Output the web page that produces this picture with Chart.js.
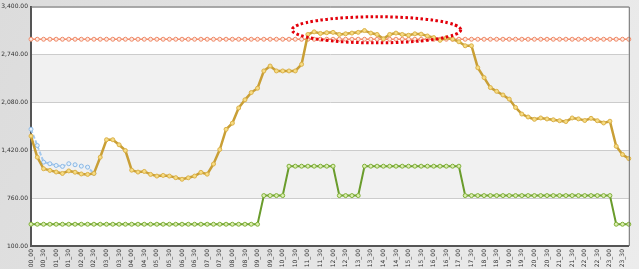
<!DOCTYPE html>
<html>
<head>
<meta charset="utf-8">
<script src="https://cdn.jsdelivr.net/npm/chart.js@4/dist/chart.umd.min.js"></script>
<style>
  html, body { margin: 0; padding: 0; background: #e8e8e8; }
  #wrap { width: 639px; height: 269px; }
</style>
</head>
<body>
<div id="wrap"><canvas id="loadChart" width="639" height="269"></canvas></div>
<script>
const times = [
  '00_00','00_15','00_30','00_45','01_00','01_15','01_30','01_45',
  '02_00','02_15','02_30','02_45','03_00','03_15','03_30','03_45',
  '04_00','04_15','04_30','04_45','05_00','05_15','05_30','05_45',
  '06_00','06_15','06_30','06_45','07_00','07_15','07_30','07_45',
  '08_00','08_15','08_30','08_45','09_00','09_15','09_30','09_45',
  '10_00','10_15','10_30','10_45','11_00','11_15','11_30','11_45',
  '12_00','12_15','12_30','12_45','13_00','13_15','13_30','13_45',
  '14_00','14_15','14_30','14_45','15_00','15_15','15_30','15_45',
  '16_00','16_15','16_30','16_45','17_00','17_15','17_30','17_45',
  '18_00','18_15','18_30','18_45','19_00','19_15','19_30','19_45',
  '20_00','20_15','20_30','20_45','21_00','21_15','21_30','21_45',
  '22_00','22_15','22_30','22_45','23_00','23_15','23_30','23_45'
];

const loadValues = [
  1615, 1324, 1165, 1142, 1120, 1100, 1135, 1117,
  1093, 1087, 1100, 1324, 1565, 1565, 1495, 1416,
  1145, 1119, 1128, 1087, 1064, 1073, 1064, 1042,
  1020, 1040, 1064, 1115, 1090, 1230, 1430, 1708,
  1793, 2003, 2115, 2215, 2275, 2513, 2581, 2513,
  2513, 2513, 2513, 2604, 3016, 3052, 3030, 3040,
  3045, 3016, 3025, 3035, 3045, 3070, 3035, 3016,
  2955, 3016, 3035, 3016, 3005, 3025, 3020, 2995,
  2973, 2935, 2970, 2952, 2915, 2860, 2860, 2558,
  2421, 2284, 2232, 2182, 2125, 2010, 1919, 1878,
  1846, 1865, 1851, 1840, 1827, 1815, 1865, 1852,
  1830, 1860, 1827, 1796, 1820, 1475, 1361, 1305
];

const forecastValues = [
  1710, 1485, 1256, 1234, 1210, 1197, 1234, 1220,
  1201, 1187, 1100
];

const limitValues = [
  2950, 2950, 2950, 2950, 2950, 2950, 2950, 2950,
  2950, 2950, 2950, 2950, 2950, 2950, 2950, 2950,
  2950, 2950, 2950, 2950, 2950, 2950, 2950, 2950,
  2950, 2950, 2950, 2950, 2950, 2950, 2950, 2950,
  2950, 2950, 2950, 2950, 2950, 2950, 2950, 2950,
  2950, 2950, 2950, 2950, 2950, 2950, 2950, 2950,
  2950, 2950, 2950, 2950, 2950, 2950, 2950, 2950,
  2950, 2950, 2950, 2950, 2950, 2950, 2950, 2950,
  2950, 2950, 2950, 2950, 2950, 2950, 2950, 2950,
  2950, 2950, 2950, 2950, 2950, 2950, 2950, 2950,
  2950, 2950, 2950, 2950, 2950, 2950, 2950, 2950,
  2950, 2950, 2950, 2950, 2950, 2950, 2950, 2950
];

const stepValues = [
  400, 400, 400, 400, 400, 400, 400, 400,
  400, 400, 400, 400, 400, 400, 400, 400,
  400, 400, 400, 400, 400, 400, 400, 400,
  400, 400, 400, 400, 400, 400, 400, 400,
  400, 400, 400, 400, 400, 795, 795, 795,
  795, 1200, 1200, 1200, 1200, 1200, 1200, 1200,
  1200, 795, 795, 795, 795, 1200, 1200, 1200,
  1200, 1200, 1200, 1200, 1200, 1200, 1200, 1200,
  1200, 1200, 1200, 1200, 1200, 795, 795, 795,
  795, 795, 795, 795, 795, 795, 795, 795,
  795, 795, 795, 795, 795, 795, 795, 795,
  795, 795, 795, 795, 795, 400, 400, 400
];

const yMin = 100;
const yMax = 3400;
const yStep = 660;

// red dotted ellipse around the peak, in data units
const highlight = { centerIndex: 54.9, centerValue: 3080, halfSteps: 13.4, halfValue: 180 };

const backgroundPlugin = {
  id: 'background',
  beforeDraw(chart) {
    const ctx = chart.ctx;
    const area = chart.chartArea;
    const y = chart.scales.y;
    ctx.save();
    const grad = ctx.createLinearGradient(0, 0, chart.width, chart.height);
    grad.addColorStop(0, '#dcdcdc');
    grad.addColorStop(1, '#ececec');
    ctx.fillStyle = grad;
    ctx.fillRect(0, 0, chart.width, chart.height);
    ctx.fillStyle = '#ffffff';
    ctx.fillRect(area.left, area.top, area.right - area.left, area.bottom - area.top);
    ctx.fillStyle = '#f1f1f1';
    const ticks = y.ticks;
    for (let i = 1; i < ticks.length - 1; i += 2) {
      const top = y.getPixelForValue(ticks[i + 1].value);
      const bottom = y.getPixelForValue(ticks[i].value);
      ctx.fillRect(area.left, top, area.right - area.left, bottom - top);
    }
    ctx.restore();
  },
  afterDraw(chart) {
    const ctx = chart.ctx;
    const area = chart.chartArea;
    ctx.save();
    ctx.strokeStyle = '#6f6f6f';
    ctx.lineWidth = 1;
    ctx.beginPath();
    ctx.moveTo(area.left, area.top + 0.5);
    ctx.lineTo(area.right + 0.5, area.top + 0.5);
    ctx.lineTo(area.right + 0.5, area.bottom);
    ctx.stroke();

    const xs = chart.scales.x;
    const ys = chart.scales.y;
    const cx = xs.getPixelForValue(highlight.centerIndex);
    const cy = ys.getPixelForValue(highlight.centerValue);
    const rx = xs.getPixelForValue(highlight.centerIndex + highlight.halfSteps) - cx;
    const ry = cy - ys.getPixelForValue(highlight.centerValue + highlight.halfValue);
    ctx.strokeStyle = '#e3000b';
    ctx.lineWidth = 3;
    ctx.setLineDash([2.5, 2.5]);
    ctx.beginPath();
    ctx.ellipse(cx, cy, rx, ry, 0, 0, Math.PI * 2);
    ctx.stroke();
    ctx.restore();
  }
};

new Chart(document.getElementById('loadChart').getContext('2d'), {
  type: 'line',
  data: {
    labels: times,
    datasets: [
      {
        label: 'Load',
        data: loadValues,
        borderColor: '#c99f36',
        borderWidth: 2.5,
        pointRadius: 2,
        pointBackgroundColor: '#f6dc85',
        pointBorderColor: '#dcb24a',
        pointBorderWidth: 1,
        tension: 0,
        order: 1
      },
      {
        label: 'Forecast',
        data: forecastValues,
        borderColor: '#a3c8ee',
        borderWidth: 2,
        borderDash: [4, 2],
        pointRadius: 2,
        pointBackgroundColor: '#e4f0fb',
        pointBorderColor: '#8cb9e6',
        pointBorderWidth: 1,
        tension: 0,
        order: 2
      },
      {
        label: 'Limit',
        data: limitValues,
        borderColor: '#f08a68',
        borderWidth: 1.5,
        pointRadius: 2,
        pointBackgroundColor: '#fde9e1',
        pointBorderColor: '#f08a68',
        pointBorderWidth: 1,
        tension: 0,
        order: 3
      },
      {
        label: 'Contract',
        data: stepValues,
        borderColor: '#6a9c2c',
        borderWidth: 2,
        pointRadius: 2,
        pointBackgroundColor: '#dcefb0',
        pointBorderColor: '#80b03a',
        pointBorderWidth: 1,
        tension: 0,
        order: 4
      }
    ]
  },
  options: {
    responsive: false,
    animation: false,
    layout: { padding: { top: 5, right: 7, left: 0, bottom: 0 } },
    plugins: {
      legend: { display: false },
      tooltip: { enabled: false }
    },
    scales: {
      x: {
        offset: false,
        grid: { display: false, drawTicks: false, tickLength: 0 },
        border: { display: true, color: '#555555', width: 2 },
        ticks: {
          autoSkip: false,
          minRotation: 90,
          maxRotation: 90,
          padding: 3,
          color: '#333333',
          font: { family: 'DejaVu Sans', size: 6 },
          callback: (value, index) => (index % 2 === 0 ? times[index] : '')
        },
        afterFit: scale => { scale.height = 23; }
      },
      y: {
        min: yMin,
        max: yMax,
        grid: { color: '#cccccc', drawTicks: false },
        border: { display: true, color: '#555555', width: 2 },
        ticks: {
          stepSize: yStep,
          padding: 3,
          color: '#333333',
          font: { family: 'DejaVu Sans', size: 6 },
          callback: v => v.toLocaleString('en-US', { minimumFractionDigits: 2, maximumFractionDigits: 2 })
        },
        afterFit: scale => { scale.width = 31; }
      }
    }
  },
  plugins: [backgroundPlugin]
});
</script>
</body>
</html>
